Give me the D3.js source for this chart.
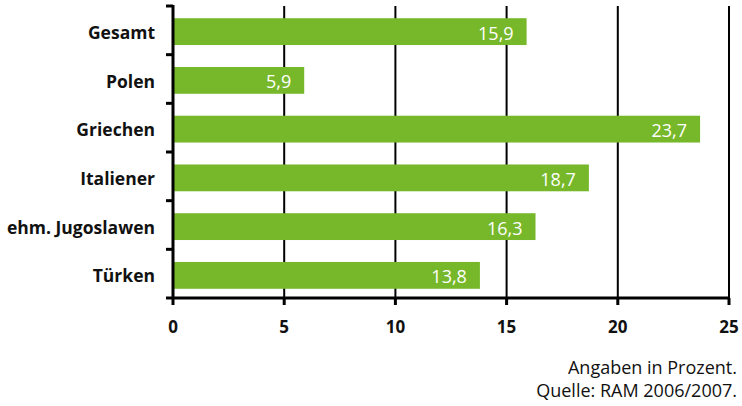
<!DOCTYPE html>
<html>
<head>
<meta charset="utf-8">
<script src="https://cdn.jsdelivr.net/npm/d3@7"></script>
<style>
  body { margin: 0; background: #fff; }
  svg text { font-family: "Open Sans", "Noto Sans", sans-serif; }
</style>
</head>
<body>
<script>
const categories = ["Gesamt", "Polen", "Griechen", "Italiener", "ehm. Jugoslawen", "Türken"];
const values = [15.9, 5.9, 23.7, 18.7, 16.3, 13.8];
const xTicks = [0, 5, 10, 15, 20, 25];
const notes = ["Angaben in Prozent.", "Quelle: RAM 2006/2007."];

const width = 742, height = 406;
const svg = d3.select("body").append("svg")
  .attr("width", width)
  .attr("height", height);

const x = d3.scaleLinear().domain([0, 25]).range([173, 729]);
const y = d3.scaleBand().domain(categories).range([6, 298]).paddingInner(0.45).paddingOuter(0.22);
const step = (298 - 6) / categories.length;

// vertical grid lines
svg.append("g").selectAll("line")
  .data(xTicks.slice(1))
  .enter().append("line")
  .attr("x1", d => x(d)).attr("x2", d => x(d))
  .attr("y1", 6).attr("y2", 298)
  .attr("stroke", "#000").attr("stroke-width", 2);

// bars
svg.append("g").selectAll("rect")
  .data(values)
  .enter().append("rect")
  .attr("x", x(0))
  .attr("y", (d, i) => y(categories[i]) + 1.5)
  .attr("width", d => x(d) - x(0))
  .attr("height", y.bandwidth())
  .attr("fill", "#76b82a");

// value labels
svg.append("g").selectAll("text")
  .data(values)
  .enter().append("text")
  .attr("x", d => x(d) - 13)
  .attr("y", (d, i) => y(categories[i]) + 1.5 + 21.5)
  .attr("text-anchor", "end")
  .attr("fill", "#fff")
  .attr("font-size", 18)
  .text(d => String(d).replace(".", ","));

// y axis
svg.append("line")
  .attr("x1", 173).attr("x2", 173).attr("y1", 5).attr("y2", 299)
  .attr("stroke", "#000").attr("stroke-width", 3);
svg.append("g").selectAll("line")
  .data(d3.range(categories.length + 1))
  .enter().append("line")
  .attr("x1", 166).attr("x2", 173)
  .attr("y1", i => 6 + i * step).attr("y2", i => 6 + i * step)
  .attr("stroke", "#000").attr("stroke-width", 3);

svg.append("g").selectAll("text")
  .data(categories)
  .enter().append("text")
  .attr("x", 155)
  .attr("y", (d, i) => 6 + (i + 0.5) * step + 8.5)
  .attr("text-anchor", "end")
  .attr("font-weight", "bold")
  .attr("font-size", 17.5)
  .attr("fill", "#111")
  .text(d => d);

// x axis
svg.append("line")
  .attr("x1", 172).attr("x2", x(25) + 1).attr("y1", 298).attr("y2", 298)
  .attr("stroke", "#000").attr("stroke-width", 3);
svg.append("g").selectAll("line")
  .data(xTicks)
  .enter().append("line")
  .attr("x1", d => x(d)).attr("x2", d => x(d))
  .attr("y1", 298).attr("y2", 305)
  .attr("stroke", "#000").attr("stroke-width", 3);
svg.append("g").selectAll("text")
  .data(xTicks)
  .enter().append("text")
  .attr("x", d => x(d))
  .attr("y", 333)
  .attr("text-anchor", "middle")
  .attr("font-weight", "bold")
  .attr("font-size", 17)
  .attr("fill", "#111")
  .text(d => d);

// notes
svg.append("g").selectAll("text")
  .data(notes)
  .enter().append("text")
  .attr("x", 737)
  .attr("y", (d, i) => 374 + i * 23)
  .attr("text-anchor", "end")
  .attr("font-size", 18)
  .attr("fill", "#111")
  .text(d => d);
</script>
</body>
</html>
